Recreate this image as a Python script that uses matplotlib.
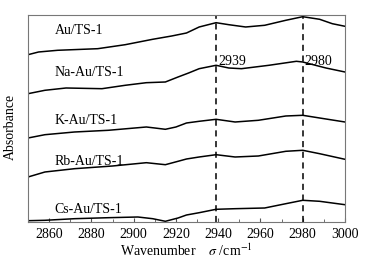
import matplotlib

matplotlib.use("Agg")
import matplotlib.pyplot as plt  # noqa: E402
from matplotlib.ticker import MultipleLocator  # noqa: E402

plt.rcParams["font.family"] = ["Liberation Serif", "DejaVu Serif"]
plt.rcParams["mathtext.fontset"] = "stix"

# spectra (offset absorbance, arbitrary units)
au_wn = [2850, 2855, 2864, 2883, 2896, 2909, 2918, 2925, 2931, 2939,
         2945, 2953, 2962, 2972, 2980, 2988, 2994, 3000]
au_abs = [167.8, 170.5, 172.2, 173.8, 177.8, 183.2, 186.5, 189.5, 195.5, 199.8,
          197.8, 195.5, 197.2, 202.2, 205.8, 203.2, 198.8, 196.2]

na_wn = [2850, 2858, 2868, 2885, 2896, 2906, 2915, 2921, 2926, 2931,
         2939, 2945, 2951, 2964, 2977, 2980, 2991, 3000]
na_abs = [128.8, 132.2, 134.5, 133.8, 137.2, 139.8, 140.5, 145.5, 149.5, 153.8,
          157.2, 154.5, 153.8, 157.2, 161.2, 160.5, 154.5, 150.5]

k_wn = [2850, 2858, 2872, 2888, 2906, 2910, 2915, 2920, 2925, 2931,
        2939, 2948, 2959, 2972, 2980, 2988, 3000]
k_abs = [84.5, 87.8, 90.5, 92.2, 95.5, 94.5, 93.2, 95.5, 99.5, 101.2,
         103.2, 100.5, 102.2, 106.5, 107.2, 104.5, 100.5]

rb_wn = [2850, 2858, 2872, 2890, 2906, 2915, 2921, 2925, 2931, 2939,
         2948, 2959, 2972, 2980, 2988, 3000]
rb_abs = [45.5, 50.5, 53.8, 56.5, 59.8, 57.8, 61.2, 63.5, 65.5, 67.8,
          65.5, 66.5, 71.2, 72.2, 68.8, 63.2]

cs_wn = [2850, 2858, 2872, 2888, 2902, 2909, 2915, 2921, 2925, 2931,
         2939, 2948, 2962, 2972, 2980, 2988, 3000]
cs_abs = [1.8, 2.2, 3.8, 4.8, 5.5, 3.8, 1.2, 4.5, 7.5, 9.8,
          13.2, 13.8, 14.5, 18.8, 22.2, 21.2, 17.8]

labels = ["Au/TS-1", "Na-Au/TS-1", "K-Au/TS-1", "Rb-Au/TS-1", "Cs-Au/TS-1"]
label_y = [192, 149.5, 101.5, 60.5, 12.5]
peaks = [2939, 2980]

fig = plt.figure(figsize=(3.69, 2.63), dpi=100)
ax = fig.add_axes([0.0759, 0.154, 0.859, 0.789])

series = [(au_wn, au_abs), (na_wn, na_abs), (k_wn, k_abs), (rb_wn, rb_abs), (cs_wn, cs_abs)]
for (wn, ab), name, ly in zip(series, labels, label_y):
    ax.plot(wn, ab, color="black", lw=1.1)
    ax.text(2862.5, ly, name, fontsize=10, va="center", ha="left")

for p in peaks:
    ax.axvline(p, color="black", lw=1.1, ls=(0, (4, 3)))
    ax.text(p + 1.0, 160.8, str(p), fontsize=10, va="center", ha="left")

ax.set_xlim(2850, 3000)
ax.set_ylim(0, 207.5)
ax.xaxis.set_major_locator(MultipleLocator(20))
ax.xaxis.set_minor_locator(MultipleLocator(10))
ax.set_yticks([])
ax.tick_params(axis="x", which="both", direction="in", labelsize=10,
               color="#555555", pad=4)
ax.tick_params(axis="x", which="major", length=3)
ax.tick_params(axis="x", which="minor", length=2.5)
for s in ax.spines.values():
    s.set_color("#777777")
    s.set_linewidth(0.8)

ax.set_xlabel(r"Wavenumber    $\sigma$ /cm$^{-1}$", fontsize=10, labelpad=1)
ax.set_ylabel("Absorbance", fontsize=10)
ax.yaxis.set_label_coords(-0.035, 0.46)

fig.savefig("out.png", dpi=100)
